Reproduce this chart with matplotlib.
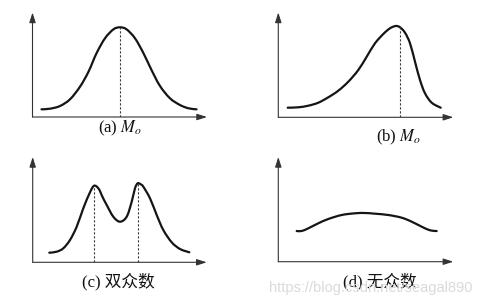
import matplotlib
matplotlib.use("Agg")
import matplotlib.pyplot as plt
from matplotlib.path import Path
from matplotlib.patches import PathPatch

# curve values (x along the axis, y = frequency height)
a_x = [9, 17.5, 27.5, 37.5, 47.5, 56, 64, 72.5, 81, 87.5, 94, 102.5, 111, 119, 127.5, 137.5, 147.5, 156, 164]
a_y = [7.7, 8.3, 11, 17.7, 30.3, 45.3, 63.7, 78.7, 87.7, 89.7, 87.7, 78.7, 63.7, 47, 31, 18.7, 12, 8.7, 7.7]
a_modes = [87.5]
a_mode_y = [89.7]

b_x = [9.4, 20, 30, 40, 50, 60, 70, 80, 88.4, 96.7, 105, 111.7, 117.4, 121.7, 126.7, 131.7, 136.7, 141.7, 146.7, 153.4, 162.4]
b_y = [9.6, 10, 11.6, 14.6, 20, 26.6, 35.6, 47.3, 60.6, 74, 83.3, 89, 91.3, 90, 84.6, 74, 55.6, 37.3, 24, 14.6, 9.6]
b_modes = [121.5]
b_mode_y = [90]

c_x = [16.6, 24, 30.6, 37.3, 44, 50.6, 57.3, 61.5, 66, 70, 74, 80.6, 87.3, 94, 99, 102.3, 105, 108, 110.6, 117.3, 124, 130.6, 139, 147.3, 156.6]
c_y = [9.6, 10.6, 14, 22.3, 35.6, 54, 70, 76.6, 73.5, 65, 57.3, 45.6, 40.6, 45.6, 60.6, 74, 79, 78, 75.6, 64, 47.3, 32.3, 20, 13.3, 10]
c_modes = [61, 105]
c_mode_y = [76.6, 79]

d_x = [18.4, 23.4, 30, 40, 50, 63.4, 76.7, 86.7, 96.7, 110, 123.4, 133.4, 143.4, 151.7, 158.4]
d_y = [30.7, 30.7, 33.4, 38.4, 42.7, 46.7, 48.4, 48.7, 48, 46.7, 44, 40, 35, 31.4, 30.7]

labels = ["(a) $M_o$", "(b) $M_o$", "(c) 双众数", "(d) 无众数"]

plt.rcParams["mathtext.fontset"] = "stix"


def smooth_path(xs, ys):
    # pass a cubic bezier through every read point (catmull-rom tangents)
    pts = list(zip(xs, ys))
    verts = [pts[0]]
    codes = [Path.MOVETO]
    for i in range(len(pts) - 1):
        p0 = pts[max(i - 1, 0)]
        p1 = pts[i]
        p2 = pts[i + 1]
        p3 = pts[min(i + 2, len(pts) - 1)]
        c1 = (p1[0] + (p2[0] - p0[0]) / 6, p1[1] + (p2[1] - p0[1]) / 6)
        c2 = (p2[0] - (p3[0] - p1[0]) / 6, p2[1] - (p3[1] - p1[1]) / 6)
        verts += [c1, c2, p2]
        codes += [Path.CURVE4] * 3
    return Path(verts, codes)


W, H = 487, 307
fig = plt.figure(figsize=(W / 100, H / 100), dpi=100)
fig.patch.set_facecolor("white")

# panel boxes in pixels: left, top, right, bottom (axis origin = left/bottom)
boxes = [(32.5, 12.5, 207, 117), (278.3, 12.5, 453.3, 117.3),
         (32.7, 157, 206.7, 262.3), (278.3, 157, 453.3, 261.7)]
label_pos = [(0.50, -0.11, 12), (0.684, -0.19, 12), (0.49, -0.18, 12), (0.581, -0.19, 12)]
curves = [(a_x, a_y, a_modes, a_mode_y), (b_x, b_y, b_modes, b_mode_y),
          (c_x, c_y, c_modes, c_mode_y), (d_x, d_y, [], [])]

for box, (xs, ys, modes, mode_y), lab, (lx, ly, fs) in zip(boxes, curves, labels, label_pos):
    l, t, r, b = box
    ax = fig.add_axes([l / W, (H - b) / H, (r - l) / W, (b - t) / H])
    ax.set_xlim(0, r - l)
    ax.set_ylim(0, b - t)
    ax.axis("off")

    ax.add_patch(PathPatch(smooth_path(xs, ys), facecolor="none", edgecolor="#151515",
                           lw=1.6, capstyle="round"))
    for mx, my in zip(modes, mode_y):
        ax.plot([mx, mx], [0, my], color="#3a3a3a", lw=0.8, ls=(0, (2, 1.6)))

    arrow = dict(arrowstyle="-|>,head_length=0.5,head_width=0.16", color="#333333",
                 lw=0.8, shrinkA=0, shrinkB=0, mutation_scale=12)
    ax.annotate("", xy=(1, 0), xytext=(0, 0), xycoords="axes fraction", arrowprops=arrow)
    ax.annotate("", xy=(0, 1), xytext=(0, 0), xycoords="axes fraction", arrowprops=arrow)

    ax.text(lx, ly, lab, transform=ax.transAxes, ha="center", va="center", fontsize=fs,
            family=["Liberation Serif", "Noto Sans CJK SC"], color="#111111")

# faint blog watermark
fig.text(370.5 / W, 1 - 288 / H, "https://blog.csdn.net/seagal890", ha="center", va="center",
         fontsize=10.5, family="Liberation Sans", color="#dadada")

fig.savefig("out.png", dpi=100, facecolor="white")
